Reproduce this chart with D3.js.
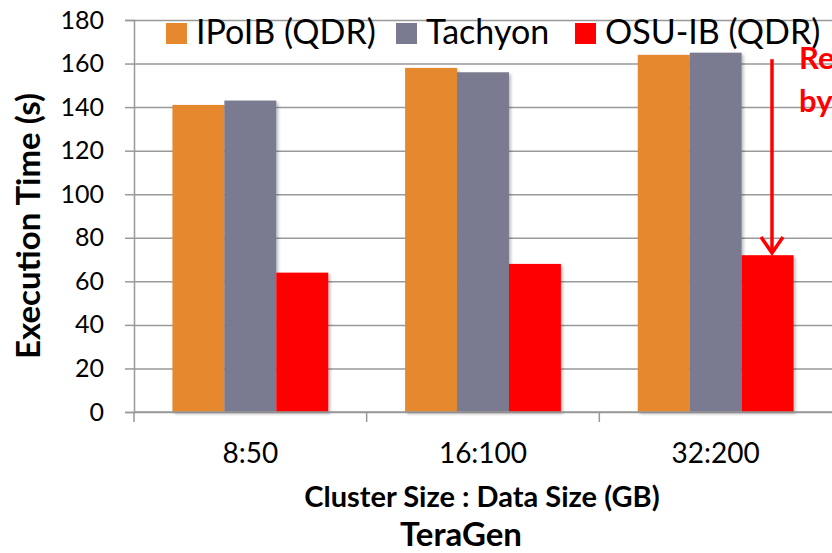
<!DOCTYPE html>
<html>
<head>
<meta charset="utf-8">
<script src="https://cdn.jsdelivr.net/npm/d3@7.9.0/dist/d3.min.js"></script>
<style>
  body { margin: 0; background: #fff; overflow: hidden; }
  svg { display: block; font-family: Lato, "Open Sans", sans-serif; }
</style>
</head>
<body>
<svg id="chart" width="832" height="553"></svg>
<script>
const categories = ["8:50", "16:100", "32:200"];
const series = ["IPoIB (QDR)", "Tachyon", "OSU-IB (QDR)"];
const ipoib = [141, 158, 164];
const tachyon = [143, 156, 165];
const osuib = [64, 68, 72];
const yTicks = [0, 20, 40, 60, 80, 100, 120, 140, 160, 180];
const colors = ["#e6892e", "#7a7a90", "#ff0000"];

const values = [ipoib, tachyon, osuib];
const rows = categories.map((c, i) => ({
  cat: c,
  vals: series.map((s, j) => ({ s, v: values[j][i] }))
}));

const width = 832, height = 553;
const margin = { top: 20, right: 0, bottom: 141, left: 134 };

const svg = d3.select("#chart");

// soft drop shadow like the office chart
const defs = svg.append("defs");
const f = defs.append("filter").attr("id", "shadow")
  .attr("x", "-10%").attr("y", "-10%").attr("width", "130%").attr("height", "130%");
f.append("feDropShadow").attr("dx", 2).attr("dy", 2).attr("stdDeviation", 1.5)
  .attr("flood-color", "#000").attr("flood-opacity", 0.25);

const x0 = d3.scaleBand().domain(categories)
  .range([margin.left, width - margin.right]).padding(0);
const x1 = d3.scaleBand().domain(series)
  .range([0, x0.bandwidth()]).paddingInner(0).paddingOuter(0.74);
const y = d3.scaleLinear().domain([0, 180]).range([height - margin.bottom, margin.top]);

// gridlines
svg.append("g")
  .attr("transform", `translate(${margin.left},0)`)
  .call(d3.axisLeft(y).tickValues(yTicks).tickFormat("").tickSize(-(width - margin.left)))
  .call(g => g.select(".domain").remove())
  .call(g => g.selectAll("line").attr("stroke", "#999").attr("stroke-width", 1.5));

// y axis
svg.append("g")
  .attr("transform", `translate(${margin.left},0)`)
  .call(d3.axisLeft(y).tickValues(yTicks).tickSize(9).tickPadding(21))
  .call(g => g.select(".domain").attr("stroke", "#999").attr("stroke-width", 1.5))
  .call(g => g.selectAll("line").attr("stroke", "#999").attr("stroke-width", 1.5))
  .call(g => g.selectAll("text").attr("font-size", 25).attr("fill", "#000")
    .attr("font-family", "Lato, sans-serif"));

// bars
svg.append("g").selectAll("g")
  .data(rows)
  .join("g")
  .attr("transform", d => `translate(${x0(d.cat)},0)`)
  .selectAll("rect")
  .data(d => d.vals)
  .join("rect")
  .attr("x", d => x1(d.s))
  .attr("y", d => y(d.v))
  .attr("width", x1.bandwidth())
  .attr("height", d => y(0) - y(d.v))
  .attr("fill", d => colors[series.indexOf(d.s)])
  .attr("filter", "url(#shadow)");

// x axis
const xAxisY = y(0);
svg.append("line")
  .attr("x1", margin.left).attr("x2", width)
  .attr("y1", xAxisY).attr("y2", xAxisY)
  .attr("stroke", "#999").attr("stroke-width", 1.5);
svg.append("g").selectAll("line")
  .data(categories)
  .join("line")
  .attr("x1", d => x0(d)).attr("x2", d => x0(d))
  .attr("y1", xAxisY).attr("y2", xAxisY + 10)
  .attr("stroke", "#999").attr("stroke-width", 1.5);
svg.append("g").selectAll("text")
  .data(categories)
  .join("text")
  .attr("x", d => x0(d) + x0.bandwidth() / 2)
  .attr("y", 463)
  .attr("text-anchor", "middle")
  .attr("font-size", 28)
  .text(d => d);

// axis titles
svg.append("text")
  .attr("x", 482).attr("y", 507)
  .attr("text-anchor", "middle")
  .attr("font-size", 29).attr("font-weight", "bold")
  .text("Cluster Size : Data Size (GB)");
svg.append("text")
  .attr("x", 461).attr("y", 546)
  .attr("text-anchor", "middle")
  .attr("font-size", 33).attr("font-weight", "bold")
  .text("TeraGen");
svg.append("text")
  .attr("transform", "translate(40,226) rotate(-90)")
  .attr("text-anchor", "middle")
  .attr("font-size", 33).attr("font-weight", "bold")
  .text("Execution Time (s)");

// legend
const legendX = [166, 396, 575];
const legend = svg.append("g").selectAll("g")
  .data(series)
  .join("g")
  .attr("transform", (d, i) => `translate(${legendX[i]},23)`);
legend.append("rect")
  .attr("width", 21).attr("height", 21)
  .attr("fill", (d, i) => colors[i]);
legend.append("text")
  .attr("x", 30).attr("y", 21)
  .attr("font-size", 34)
  .text(d => d);

// annotation arrow (text runs off the right edge as in the original)
const arrowX = 772;
svg.append("line")
  .attr("x1", arrowX).attr("x2", arrowX)
  .attr("y1", y(162)).attr("y2", y(73))
  .attr("stroke", "#ff0000").attr("stroke-width", 3.5);
svg.append("path")
  .attr("d", `M${arrowX - 11},${y(73) - 16} L${arrowX},${y(73)} L${arrowX + 11},${y(73) - 16}`)
  .attr("fill", "none").attr("stroke", "#ff0000").attr("stroke-width", 3.5);
svg.append("text")
  .attr("x", 799).attr("y", 69)
  .attr("fill", "#ff0000").attr("font-size", 31).attr("font-weight", "bold")
  .text("Reduced");
svg.append("text")
  .attr("x", 799).attr("y", 112)
  .attr("fill", "#ff0000").attr("font-size", 31).attr("font-weight", "bold")
  .text("by 56%");
</script>
</body>
</html>
